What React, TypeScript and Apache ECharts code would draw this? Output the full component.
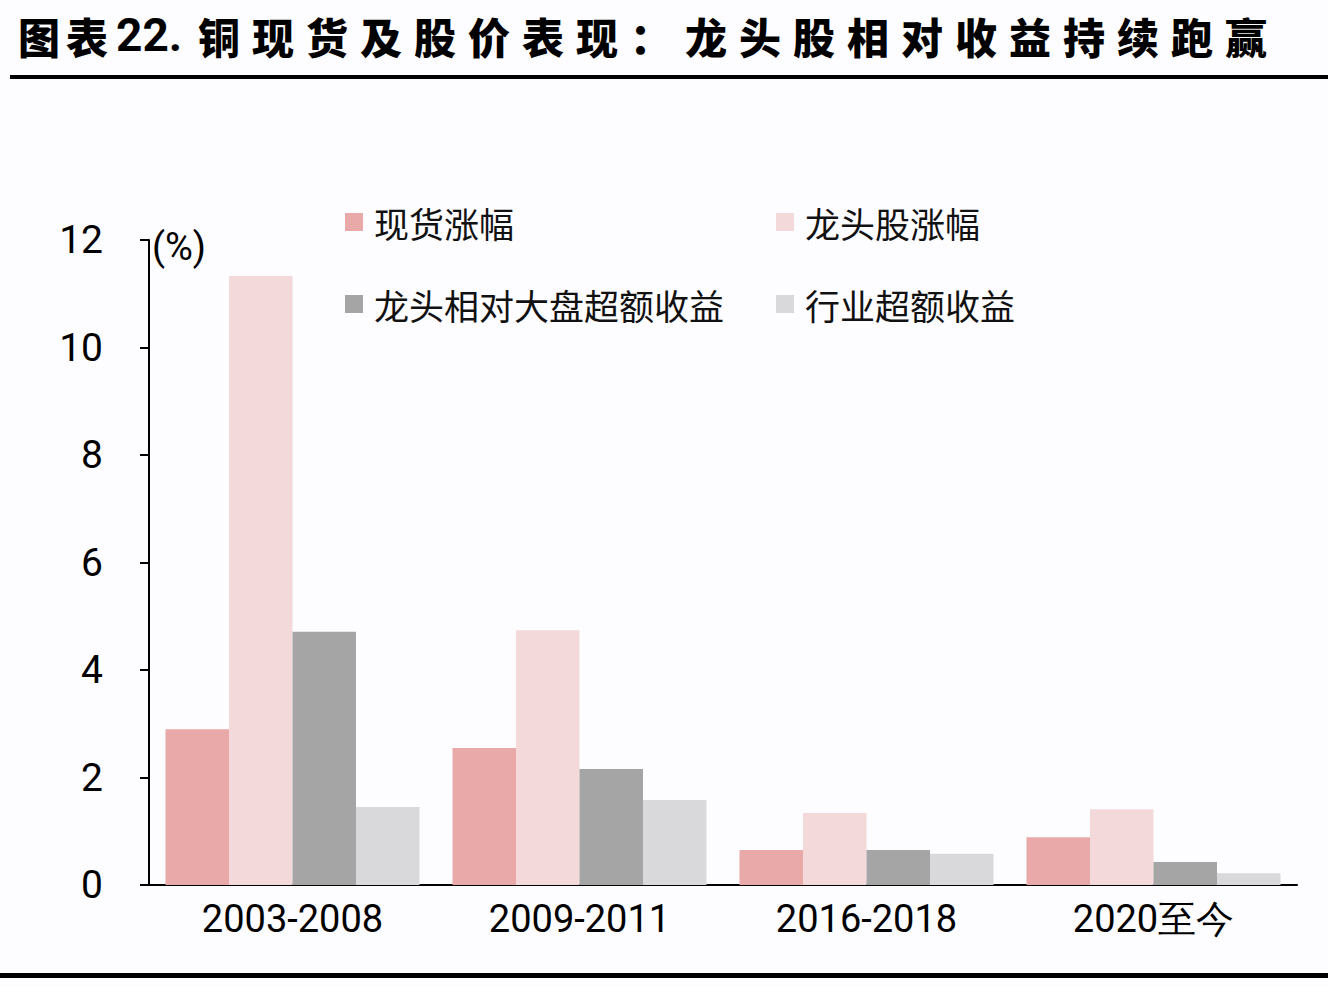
import React, { useEffect, useRef } from "react";
import * as echarts from "echarts";

const categories = ["2003-2008", "2009-2011", "2016-2018", "2020至今"];
const spotGain = [2.9, 2.55, 0.65, 0.89];
const leaderGain = [11.33, 4.74, 1.34, 1.41];
const leaderExcess = [4.71, 2.16, 0.65, 0.43];
const industryExcess = [1.45, 1.58, 0.58, 0.22];
const seriesNames = ["现货涨幅", "龙头股涨幅", "龙头相对大盘超额收益", "行业超额收益"];
const seriesColors = ["#e8a9a8", "#f3d9da", "#a5a5a5", "#d9d9db"];

// title pieces: [text, left x, glyph step]; CJK pieces are laid out one glyph per step
const titlePieces: [string, number, number][] = [
  ["图表", 18, 48],
  ["22.", 116, 0],
  ["铜现货及股价表现：", 198, 54],
  ["龙头股相对收益持续跑赢", 685, 54],
];

const numFont = "'Roboto', 'Noto Sans', sans-serif";
const cjkFont = "'Noto Sans CJK SC', sans-serif";

export default function App() {
  const ref = useRef<HTMLDivElement>(null);

  useEffect(() => {
    if (!ref.current) return;
    const chart = echarts.init(ref.current, undefined, { renderer: "svg" });
    const values = [spotGain, leaderGain, leaderExcess, industryExcess];

    const titleGraphics: any[] = [];
    titlePieces.forEach(([text, x0, step]) => {
      if (/^[0-9.]+$/.test(text)) {
        titleGraphics.push({
          type: "text",
          x: x0,
          y: 35,
          style: { text, font: `bold 46px 'Roboto', sans-serif`, fill: "#000", verticalAlign: "middle" },
        });
      } else {
        Array.from(text).forEach((ch, i) => {
          titleGraphics.push({
            type: "text",
            x: x0 + i * step,
            y: 35,
            style: { text: ch, font: `900 42px ${cjkFont}`, fill: "#000", verticalAlign: "middle" },
          });
        });
      }
    });

    const legendText = {
      fontFamily: cjkFont,
      fontSize: 35,
      color: "#111",
      lineHeight: 40,
      padding: [0, 0, 0, 6],
    };

    chart.setOption({
      animation: false,
      backgroundColor: "#fdfcfe",
      grid: { left: 149, right: 31, top: 240, bottom: 101 },
      legend: [
        {
          data: [seriesNames[0], seriesNames[2]],
          orient: "vertical",
          left: 340,
          top: 197,
          itemWidth: 18,
          itemHeight: 18,
          itemGap: 42,
          icon: "rect",
          textStyle: legendText,
        },
        {
          data: [seriesNames[1], seriesNames[3]],
          orient: "vertical",
          left: 771,
          top: 197,
          itemWidth: 18,
          itemHeight: 18,
          itemGap: 42,
          icon: "rect",
          textStyle: legendText,
        },
      ],
      xAxis: {
        type: "category",
        data: categories,
        axisLine: { lineStyle: { color: "#000", width: 2 } },
        axisTick: { length: 11, lineStyle: { color: "#000", width: 2 } },
        axisLabel: { fontFamily: numFont, fontSize: 38, color: "#000", margin: 15 },
      },
      yAxis: {
        type: "value",
        min: 0,
        max: 12,
        interval: 2,
        splitLine: { show: false },
        axisLine: { show: true, lineStyle: { color: "#000", width: 2 } },
        axisTick: { show: true, length: 9, lineStyle: { color: "#000", width: 2 } },
        axisLabel: { fontFamily: numFont, fontSize: 39, color: "#000", margin: 46 },
      },
      series: seriesNames.map((name, i) => ({
        name,
        type: "bar",
        data: values[i],
        barGap: "0%",
        barCategoryGap: "11.5%",
        itemStyle: { color: seriesColors[i] },
      })),
      graphic: [
        ...titleGraphics,
        { type: "rect", shape: { x: 10, y: 75, width: 1318, height: 4 }, style: { fill: "#000" } },
        { type: "rect", shape: { x: 0, y: 973, width: 1328, height: 5 }, style: { fill: "#000" } },
        {
          type: "text",
          x: 152,
          y: 247,
          style: { text: "(%)", font: `38px ${numFont}`, fill: "#000", verticalAlign: "middle" },
        },
      ],
    });

    return () => chart.dispose();
  }, []);

  return (
    <div
      ref={ref}
      style={{ position: "absolute", left: 0, top: 0, width: 1328, height: 986 }}
    />
  );
}
